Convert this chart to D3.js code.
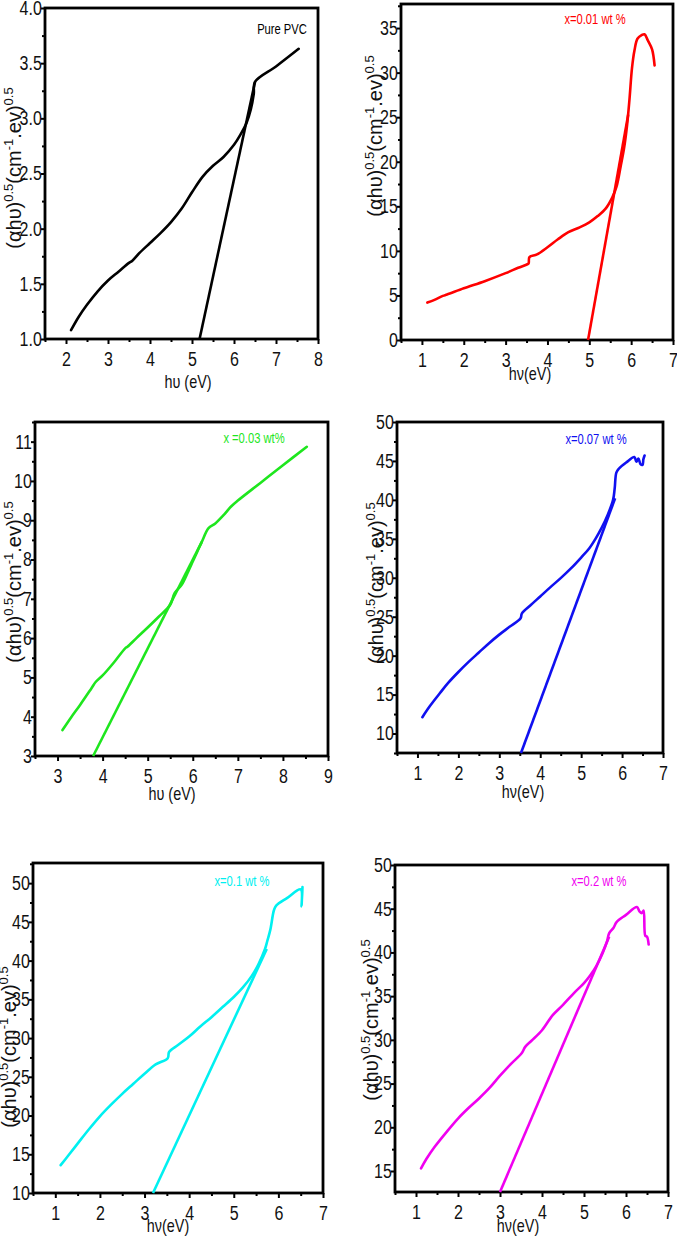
<!DOCTYPE html>
<html>
<head>
<meta charset="utf-8">
<script src="https://cdn.jsdelivr.net/npm/d3@7/dist/d3.min.js"></script>
<style>
  body { margin: 0; background: #fff; }
  svg { display: block; }
  text { font-family: "Liberation Sans", Arial, sans-serif; }
</style>
</head>
<body>
<div id="chart-area"></div>
<script>
const pvcCurve = [[2.12,1.08],[2.3,1.2],[2.5,1.31],[2.75,1.43],[3.0,1.53],[3.25,1.61],[3.5,1.69],[3.58,1.71],[3.75,1.78],[4.0,1.87],[4.25,1.96],[4.5,2.06],[4.75,2.18],[5.0,2.33],[5.25,2.47],[5.5,2.57],[5.75,2.65],[6.0,2.76],[6.15,2.85],[6.3,2.96],[6.4,3.08],[6.47,3.22],[6.5,3.33],[7.0,3.47],[7.54,3.63]];
const pvcFit = [[5.18,1.0],[6.5,3.33]];

const x001Curve = [[1.13,4.2],[1.3,4.5],[1.5,4.95],[1.6,5.1],[2.0,5.8],[2.5,6.6],[3.0,7.5],[3.3,8.1],[3.52,8.5],[3.55,8.6],[3.57,9.3],[3.75,9.6],[4.0,10.4],[4.25,11.3],[4.5,12.1],[4.75,12.6],[5.0,13.2],[5.2,13.9],[5.4,14.8],[5.55,16.0],[5.65,17.2],[5.75,19.5],[5.83,21.5],[5.9,24.0],[5.96,27.0],[6.02,30.5],[6.08,32.5],[6.15,33.8],[6.25,34.2],[6.32,34.3],[6.4,33.6],[6.5,32.6],[6.56,30.8]];
const x001Fit = [[4.97,0],[5.93,25.3]];

const x003Curve = [[3.11,3.66],[3.3,3.98],[3.5,4.3],[3.75,4.72],[3.85,4.89],[4.0,5.05],[4.25,5.38],[4.5,5.74],[4.55,5.78],[4.75,6.0],[5.0,6.27],[5.25,6.55],[5.5,6.85],[5.6,7.15],[5.75,7.35],[5.9,7.7],[6.0,7.95],[6.1,8.2],[6.2,8.45],[6.35,8.8],[6.5,8.92],[6.7,9.15],[6.85,9.35],[7.0,9.5],[7.5,9.95],[8.0,10.4],[8.53,10.87]];
const x003Fit = [[3.79,3.0],[6.2,8.45]];

const x007Curve = [[1.12,12.1],[1.3,13.5],[1.55,15.2],[1.75,16.5],[2.0,17.9],[2.25,19.2],[2.5,20.4],[2.75,21.6],[3.0,22.7],[3.25,23.7],[3.52,24.8],[3.55,25.4],[3.75,26.4],[4.0,27.6],[4.25,28.8],[4.5,29.95],[4.75,31.2],[5.0,32.6],[5.2,33.8],[5.35,35.0],[5.5,36.4],[5.65,38.1],[5.78,40.0],[5.82,41.5],[5.86,43.5],[5.92,44.0],[6.1,44.8],[6.3,45.5],[6.35,44.9],[6.4,45.3],[6.45,44.6],[6.5,44.5],[6.52,45.2],[6.55,45.7]];
const x007Fit = [[3.53,7.5],[5.83,40.2]];

const x01Curve = [[1.12,13.6],[1.3,14.9],[1.53,16.6],[1.75,18.2],[2.0,19.9],[2.25,21.4],[2.5,22.8],[2.75,24.1],[3.0,25.4],[3.25,26.6],[3.52,27.4],[3.55,28.2],[3.75,29.1],[4.0,30.2],[4.25,31.5],[4.5,32.7],[4.75,34.0],[5.0,35.3],[5.2,36.5],[5.4,38.0],[5.55,39.5],[5.7,41.5],[5.75,42.5],[5.82,44.0],[5.9,46.5],[5.95,47.1],[6.2,48.1],[6.5,49.2],[6.52,47.0],[6.54,49.5]];
const x01Fit = [[3.19,10],[5.74,41.5]];

const x02Curve = [[1.12,15.3],[1.25,16.4],[1.45,17.8],[1.75,19.6],[2.0,21.0],[2.25,22.2],[2.5,23.3],[2.75,24.5],[3.0,25.9],[3.25,27.2],[3.52,28.5],[3.6,29.2],[3.75,29.9],[4.0,31.1],[4.25,32.8],[4.5,34.0],[4.75,35.3],[5.0,36.5],[5.15,37.4],[5.3,38.5],[5.45,40.0],[5.55,41.3],[5.6,42.2],[5.7,42.8],[5.78,43.5],[6.0,44.3],[6.26,45.2],[6.32,44.7],[6.38,44.5],[6.42,44.8],[6.46,41.9],[6.5,41.8],[6.54,40.9]];
const x02Fit = [[3.0,12.6],[5.6,41.8]];

// tick labels
const pvcXTicks = [2,3,4,5,6,7,8];
const pvcYTicks = [1.0,1.5,2.0,2.5,3.0,3.5,4.0];
const x001YTicks = [0,5,10,15,20,25,30,35];
const x003XTicks = [3,4,5,6,7,8,9];
const x003YTicks = [3,4,5,6,7,8,9,10,11];
const dopedXTicks = [1,2,3,4,5,6,7];
const x007YTicks = [10,15,20,25,30,35,40,45,50];
const x01YTicks = [10,15,20,25,30,35,40,45,50];
const x02YTicks = [15,20,25,30,35,40,45,50];

const labels = ["Pure PVC","x=0.01 wt %","x =0.03 wt%","x=0.07 wt %","x=0.1 wt %","x=0.2 wt %"];
const colors = ["#000000","#ff0000","#1ee61e","#1010f0","#00f0f0","#f000f0"];

// ytp = [baseline x of the rotated title, its centre y]
const panels = [
  {curve:pvcCurve, fit:pvcFit, xt:pvcXTicks, yt:pvcYTicks, fmt:".1f", xd:[1.5,8], yd:[1,4],
   box:[45,8,318,339], lab:[282,34], xTitle:"h\u03c5 (eV)", xtp:[188,388], ytp:[21,168]},
  {curve:x001Curve, fit:x001Fit, xt:dopedXTicks, yt:x001YTicks, fmt:"d", xd:[0.5,7], yd:[0,37.7],
   box:[401,4,673,340], lab:[595,24], xTitle:"h\u03bd(eV)", xtp:[530,380], ytp:[382,136]},
  {curve:x003Curve, fit:x003Fit, xt:x003XTicks, yt:x003YTicks, fmt:"d", xd:[2.5,9], yd:[3,11.5],
   box:[35,422,328,756], lab:[254,443], xTitle:"h\u03c5 (eV)", xtp:[172,800], ytp:[21,582]},
  {curve:x007Curve, fit:x007Fit, xt:dopedXTicks, yt:x007YTicks, fmt:"d", xd:[0.5,7], yd:[7.5,50],
   box:[397,422,663,753], lab:[596,444], xTitle:"h\u03bd(eV)", xtp:[523,798], ytp:[383,583]},
  {curve:x01Curve, fit:x01Fit, xt:dopedXTicks, yt:x01YTicks, fmt:"d", xd:[0.5,7], yd:[10,52.6],
   box:[33,863,323,1193], lab:[242,886], xTitle:"h\u03bd(eV)", xtp:[168,1232], ytp:[16,1047]},
  {curve:x02Curve, fit:x02Fit, xt:dopedXTicks, yt:x02YTicks, fmt:"d", xd:[0.5,7], yd:[12.6,50],
   box:[395,865,668,1192], lab:[599,886], xTitle:"h\u03bd(eV)", xtp:[518,1232], ytp:[378,1020]}
];

const NARROW = 0.8; // the original uses a condensed face

const svg = d3.select("#chart-area").append("svg")
  .attr("width", 677)
  .attr("height", 1239);

// minor ticks halfway between majors
function minors(ticks, dom) {
  let step = ticks[1] - ticks[0];
  let out = [];
  for (let v = ticks[0] - step / 2; v <= dom[1] + 1e-9; v += step) {
    if (v >= dom[0] - 1e-9) out.push(v);
  }
  return out.filter(v => !ticks.some(t => Math.abs(t - v) < 1e-6));
}

panels.forEach((p, i) => {
  let [l, t, r, b] = p.box;
  let x = d3.scaleLinear().domain(p.xd).range([l, r]);
  let y = d3.scaleLinear().domain(p.yd).range([b, t]);
  let g = svg.append("g");

  // minor ticks
  g.append("g").attr("transform", `translate(0,${b})`)
    .call(d3.axisBottom(x).tickValues(minors(p.xt, p.xd)).tickSize(3).tickFormat(""))
    .call(a => a.select(".domain").remove());
  g.append("g").attr("transform", `translate(${l},0)`)
    .call(d3.axisLeft(y).tickValues(minors(p.yt, p.yd)).tickSize(3).tickFormat(""))
    .call(a => a.select(".domain").remove());

  // major ticks
  let xa = g.append("g").attr("transform", `translate(0,${b})`)
    .call(d3.axisBottom(x).tickValues(p.xt).tickSize(5).tickPadding(8).tickFormat(d3.format("d")));
  let ya = g.append("g").attr("transform", `translate(${l},0)`)
    .call(d3.axisLeft(y).tickValues(p.yt).tickSize(4).tickPadding(0).tickFormat(d3.format(p.fmt)));
  [xa, ya].forEach(a => {
    a.select(".domain").remove();
    a.selectAll(".tick text")
      .attr("font-size", 20).attr("fill", "#111")
      .attr("transform", `scale(${NARROW},1)`);
  });
  g.selectAll(".tick line").attr("stroke", "#000").attr("stroke-width", 2);

  // frame
  g.append("rect")
    .attr("x", l).attr("y", t)
    .attr("width", r - l).attr("height", b - t)
    .attr("fill", "none").attr("stroke", "#000").attr("stroke-width", 2.8);

  let smooth = d3.line().curve(d3.curveCatmullRom.alpha(0.5)).x(d => x(d[0])).y(d => y(d[1]));
  let straight = d3.line().x(d => x(d[0])).y(d => y(d[1]));
  g.append("path").datum(p.curve)
    .attr("d", smooth)
    .attr("fill", "none").attr("stroke", colors[i])
    .attr("stroke-width", 2.6).attr("stroke-linejoin", "round").attr("stroke-linecap", "round");
  g.append("path").datum(p.fit)
    .attr("d", straight)
    .attr("fill", "none").attr("stroke", colors[i])
    .attr("stroke-width", 2.6);

  // legend text
  g.append("text")
    .attr("transform", `translate(${p.lab[0]},${p.lab[1]}) scale(${NARROW},1)`)
    .attr("text-anchor", "middle").attr("font-size", 14)
    .attr("fill", colors[i])
    .text(labels[i]);

  // x title
  g.append("text")
    .attr("transform", `translate(${p.xtp[0]},${p.xtp[1]}) scale(${NARROW},1)`)
    .attr("text-anchor", "middle").attr("font-size", 18)
    .attr("fill", "#111")
    .text(p.xTitle);

  // y title
  let yt = g.append("text")
    .attr("transform", `translate(${p.ytp[0]},${p.ytp[1]}) rotate(-90)`)
    .attr("text-anchor", "middle")
    .attr("font-size", 20).attr("fill", "#111");
  yt.append("tspan").text("(\u03b1h\u03c5)");
  yt.append("tspan").attr("dy", -8).attr("font-size", 13).text("0.5");
  yt.append("tspan").attr("dy", 8).text("(cm");
  yt.append("tspan").attr("dy", -8).attr("font-size", 13).text("-1");
  yt.append("tspan").attr("dy", 8).text(".ev)");
  yt.append("tspan").attr("dy", -8).attr("font-size", 13).text("0.5");
});
</script>
</body>
</html>
